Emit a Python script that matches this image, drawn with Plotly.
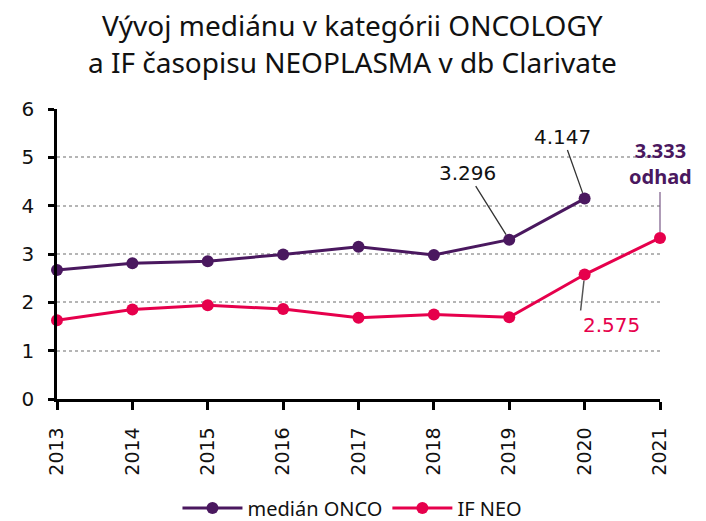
import plotly.graph_objects as go

years = [2013, 2014, 2015, 2016, 2017, 2018, 2019, 2020, 2021]
onco_years = [2013, 2014, 2015, 2016, 2017, 2018, 2019, 2020]
onco_values = [2.67, 2.81, 2.85, 2.99, 3.15, 2.98, 3.296, 4.147]
neo_values = [1.63, 1.85, 1.94, 1.86, 1.68, 1.75, 1.69, 2.575, 3.333]
y_ticks = [0, 1, 2, 3, 4, 5, 6]
title_lines = ["Vývoj mediánu v kategórii ONCOLOGY", "a IF časopisu NEOPLASMA v db Clarivate"]

PURPLE = "#4a185f"
PINK = "#e6004c"

fig = go.Figure()
fig.add_trace(go.Scatter(
    x=onco_years, y=onco_values, name="medián ONCO", mode="lines+markers",
    line=dict(color=PURPLE, width=3), marker=dict(size=12, color=PURPLE),
    cliponaxis=False))
fig.add_trace(go.Scatter(
    x=years, y=neo_values, name="IF NEO", mode="lines+markers",
    line=dict(color=PINK, width=3), marker=dict(size=12, color=PINK),
    cliponaxis=False))

fig.add_annotation(x=2019, y=onco_values[6], text="3.296", showarrow=True,
                   arrowhead=0, arrowwidth=1.3, arrowcolor="#333333",
                   ax=-42, ay=-67, standoff=6,
                   font=dict(family="DejaVu Sans", size=20, color="#111111"))
fig.add_annotation(x=2020, y=onco_values[7], text="4.147", showarrow=True,
                   arrowhead=0, arrowwidth=1.3, arrowcolor="#333333",
                   ax=-22, ay=-62, standoff=6,
                   font=dict(family="DejaVu Sans", size=20, color="#111111"))
fig.add_annotation(x=2020, y=neo_values[7], text="2.575", showarrow=True,
                   arrowhead=0, arrowwidth=1.5, arrowcolor="#555555",
                   ax=-4, ay=36, standoff=6, xanchor="left", yanchor="top",
                   font=dict(family="DejaVu Sans", size=20, color=PINK))
fig.add_annotation(x=2021, y=neo_values[8], text="<b>3.333<br>odhad</b>", showarrow=True,
                   arrowhead=0, arrowwidth=1.2, arrowcolor="#7a5a88",
                   ax=0, ay=-46, standoff=6, xanchor="center", yanchor="bottom",
                   font=dict(family="Noto Sans", size=20, color=PURPLE))

for txt, ypix in zip(title_lines, [25, 62]):
    fig.add_annotation(text=txt, xref="paper", yref="paper", x=0.49,
                       y=1 + (109 - ypix) / 290, xanchor="center", yanchor="middle",
                       showarrow=False,
                       font=dict(family="Noto Sans", size=28, color="#111111"))

fig.update_layout(
    width=706, height=521,
    margin=dict(l=57, r=46, t=109, b=122),
    plot_bgcolor="white", paper_bgcolor="white",
    showlegend=True,
    legend=dict(orientation="h", x=0.49, xanchor="center", y=0.025, yanchor="middle",
                yref="container", font=dict(family="Noto Sans", size=20, color="#111111"),
                itemwidth=60),
    xaxis=dict(range=[2013, 2021], tickvals=years, ticktext=[str(y) for y in years],
               tickangle=-90, showgrid=False, showline=True, linecolor="black", linewidth=2.5,
               ticks="outside", ticklen=8, tickwidth=2.5, tickcolor="black",
               ticklabelstandoff=10,
               tickfont=dict(family="DejaVu Sans", size=19, color="#111111"), zeroline=False),
    yaxis=dict(range=[0, 6], tickvals=y_ticks, showgrid=True, gridcolor="#b5b5b5",
               griddash="dot", gridwidth=2, showline=True, linecolor="black", linewidth=2.5,
               ticks="outside", ticklen=6, tickwidth=2.5, tickcolor="black",
               ticklabelstandoff=10,
               tickfont=dict(family="DejaVu Sans", size=20, color="#111111"), zeroline=False),
)

fig.write_html("out.html", config={"displayModeBar": False},
               post_script="document.body.style.margin='0';")
